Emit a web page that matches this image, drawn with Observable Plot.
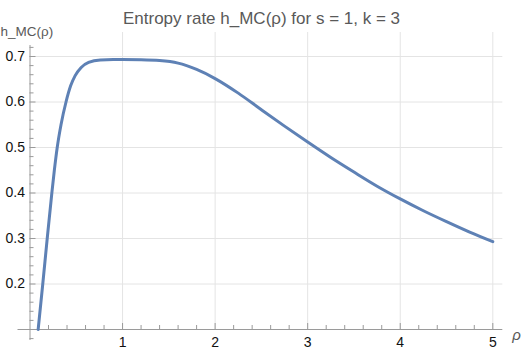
<!DOCTYPE html>
<html>
<head>
<meta charset="utf-8">
<script src="https://cdn.jsdelivr.net/npm/d3@7"></script>
<script src="https://cdn.jsdelivr.net/npm/@observablehq/plot@0.6"></script>
<style>
  html, body { margin: 0; padding: 0; background: #fff; }
  #chart svg { display: block; }
</style>
</head>
<body>
<div id="chart"></div>
<script>
// Values
const rho = [0.088, 0.138, 0.186, 0.236, 0.263, 0.294, 0.335, 0.389, 0.44, 0.488, 0.553, 0.633, 0.76, 0.9, 1.0, 1.2, 1.4, 1.6, 1.8, 2.0, 2.25, 2.5, 2.75, 3.0, 3.25, 3.5, 3.75, 4.0, 4.25, 4.5, 4.75, 5.0];
const h   = [0.100, 0.200, 0.300, 0.400, 0.450, 0.500, 0.550, 0.600, 0.636, 0.658, 0.676, 0.687, 0.6925, 0.6932, 0.6932, 0.6928, 0.6912, 0.6855, 0.6715, 0.6515, 0.6195, 0.583, 0.547, 0.512, 0.478, 0.446, 0.415, 0.387, 0.361, 0.337, 0.314, 0.293];
const xTicks = [1, 2, 3, 4, 5];
const yTicks = [0.2, 0.3, 0.4, 0.5, 0.6, 0.7];
const xMinor = d3.range(0.2, 5.01, 0.2).map(v => +v.toFixed(2)).filter(v => !xTicks.includes(v));
const yMinor = d3.range(0.08, 0.721, 0.02).map(v => +v.toFixed(2)).filter(v => !yTicks.includes(v) && v !== 0.1);
const title = "Entropy rate h_MC(ρ) for s = 1, k = 3";
const yLabel = "h_MC(ρ)";
const xLabel = "ρ";

const data = rho.map((r, i) => ({rho: r, h: h[i]}));

const W = 523, H = 350;
const x0 = 29.5, x5 = 492.3;          // pixel positions of rho = 0 and 5
const y1 = 329, y7 = 56;              // pixel positions of h = 0.1 and 0.7
const px = (5 - 0) / (x5 - x0);       // rho units per pixel
const py = (0.7 - 0.1) / (y1 - y7);   // h units per pixel

const axisColor = "#9a9a9a";
const gridColor = "#e4e4e4";
const font = "'Liberation Sans', Arial, sans-serif";

const chart = Plot.plot({
  width: W,
  height: H,
  margin: 0,
  style: {fontFamily: font, background: "#fff", overflow: "visible"},
  x: {type: "linear", domain: [0, 5], range: [x0, x5], axis: null},
  y: {type: "linear", domain: [0.1, 0.7], range: [y1, y7], axis: null},
  marks: [
    // grid
    Plot.ruleX(xTicks, {y1: 0.1, y2: 0.7 + 24 * py, stroke: gridColor, strokeWidth: 1}),
    Plot.ruleY(yTicks, {x1: 0, x2: 5 + 10 * px, stroke: gridColor, strokeWidth: 1}),
    // axes
    Plot.ruleY([0.1], {x1: -12 * px, x2: 5 + 10 * px, stroke: axisColor, strokeWidth: 1}),
    Plot.ruleX([0], {y1: 0.1 - 11 * py, y2: 0.7 + 11 * py, stroke: axisColor, strokeWidth: 1}),
    // ticks
    Plot.ruleX(xTicks, {y1: 0.1, y2: 0.1 + 6 * py, stroke: axisColor}),
    Plot.ruleX(xMinor, {y1: 0.1, y2: 0.1 + 4 * py, stroke: axisColor}),
    Plot.ruleY(yTicks, {x1: 0, x2: 6 * px, stroke: axisColor}),
    Plot.ruleY(yMinor, {x1: 0, x2: 4 * px, stroke: axisColor}),
    // tick labels
    Plot.text(xTicks, {x: d => d, y: 0.1, dy: 13, text: d => String(d), fill: "#111", fontSize: 14, textAnchor: "middle"}),
    Plot.text(yTicks, {x: 0, y: d => d, dx: -5, text: d => d.toFixed(1), fill: "#111", fontSize: 14, textAnchor: "end"}),
    // curve
    Plot.line(data, {x: "rho", y: "h", stroke: "#5e81b5", strokeWidth: 3, curve: "monotone-x"}),
    // labels
    Plot.text([title], {frameAnchor: "top-left", dx: 261, dy: 11, text: d => d, fill: "#595959", fontSize: 17, textAnchor: "middle"}),
    Plot.text([yLabel], {frameAnchor: "top-left", dx: 0, dy: 26, text: d => d, fill: "#595959", fontSize: 13.5, textAnchor: "start"}),
    Plot.text([xLabel], {frameAnchor: "top-left", dx: 516, dy: 329, text: d => d, fill: "#595959", fontSize: 15, fontStyle: "italic", textAnchor: "middle"})
  ]
});
document.getElementById("chart").append(chart);
</script>
</body>
</html>
